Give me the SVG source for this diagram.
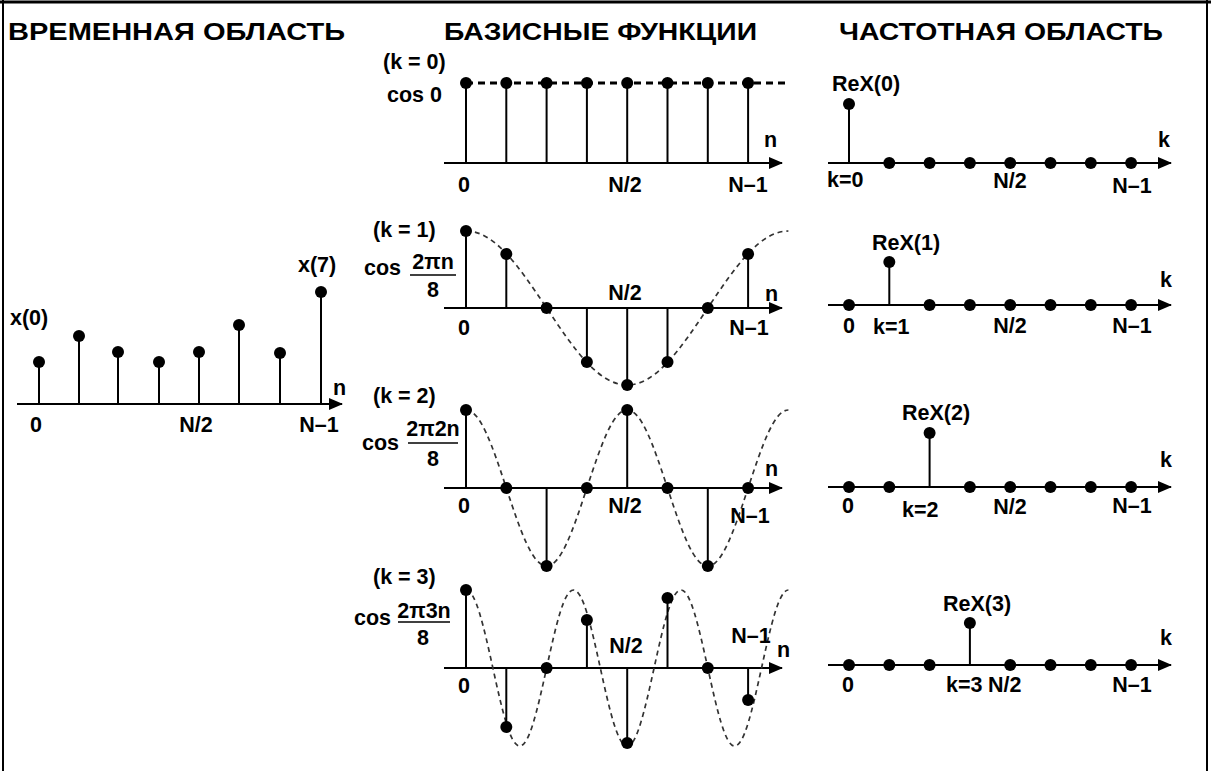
<svg xmlns="http://www.w3.org/2000/svg" width="1211" height="771" viewBox="0 0 1211 771">
<style>
.t{font-family:"Liberation Sans",Arial,sans-serif;font-weight:bold;font-size:21.5px;fill:#000}
.h{font-size:24px}
.m{text-anchor:middle}
.ax{stroke:#000;stroke-width:2;fill:none}
.st{stroke:#000;stroke-width:2;fill:none}
.cv{stroke:#333;stroke-width:1.7;fill:none;stroke-dasharray:5 4}
.dl{stroke:#000;stroke-width:3;fill:none;stroke-dasharray:7 5}
.d{fill:#000}
.fr{stroke:#000;stroke-width:1.6}
</style>
<defs>
<marker id="arr" markerUnits="userSpaceOnUse" markerWidth="14" markerHeight="12" refX="13" refY="6" orient="auto">
<path d="M0,0 L14,6 L0,12 z" fill="#000"/>
</marker>
</defs>
<rect x="0" y="0" width="1211" height="771" fill="#fff"/>
<g id="frame" stroke="#000" fill="none">
<line x1="0" y1="2" x2="1211" y2="2" stroke-width="3"/>
<line x1="3" y1="0" x2="3" y2="771" stroke-width="2"/>
<line x1="1207" y1="0" x2="1207" y2="771" stroke-width="2"/>
</g>
<g id="headers">
<text class="t h" x="8" y="40" textLength="337" lengthAdjust="spacingAndGlyphs">ВРЕМЕННАЯ ОБЛАСТЬ</text>
<text class="t h" x="444" y="40" textLength="313" lengthAdjust="spacingAndGlyphs">БАЗИСНЫЕ ФУНКЦИИ</text>
<text class="t h" x="839" y="40" textLength="324" lengthAdjust="spacingAndGlyphs">ЧАСТОТНАЯ ОБЛАСТЬ</text>
</g>

<g id="connectors">
<line class="ax" x1="17" y1="404" x2="342" y2="404" marker-end="url(#arr)"/>
<line class="ax" x1="444" y1="163" x2="782" y2="163" marker-end="url(#arr)"/>
<line class="ax" x1="444" y1="308" x2="782" y2="308" marker-end="url(#arr)"/>
<line class="ax" x1="444" y1="488" x2="782" y2="488" marker-end="url(#arr)"/>
<line class="ax" x1="444" y1="668" x2="782" y2="668" marker-end="url(#arr)"/>
<line class="ax" x1="828" y1="163" x2="1171" y2="163" marker-end="url(#arr)"/>
<line class="ax" x1="828" y1="305" x2="1171" y2="305" marker-end="url(#arr)"/>
<line class="ax" x1="828" y1="487" x2="1171" y2="487" marker-end="url(#arr)"/>
<line class="ax" x1="828" y1="665" x2="1171" y2="665" marker-end="url(#arr)"/>
</g>

<g id="time-domain">
<g class="st">
<line x1="39" y1="404" x2="39" y2="362"/>
<line x1="79" y1="404" x2="79" y2="336"/>
<line x1="118" y1="404" x2="118" y2="352"/>
<line x1="159" y1="404" x2="159" y2="362"/>
<line x1="199" y1="404" x2="199" y2="352"/>
<line x1="239" y1="404" x2="239" y2="325"/>
<line x1="280" y1="404" x2="280" y2="353"/>
<line x1="321" y1="404" x2="321" y2="292"/>
</g>
<g class="d">
<circle cx="39" cy="362" r="6"/><circle cx="79" cy="336" r="6"/><circle cx="118" cy="352" r="6"/><circle cx="159" cy="362" r="6"/>
<circle cx="199" cy="352" r="6"/><circle cx="239" cy="325" r="6"/><circle cx="280" cy="353" r="6"/><circle cx="321" cy="292" r="6"/>
</g>
<text class="t" x="10" y="325">x(0)</text>
<text class="t" x="298" y="272">x(7)</text>
<text class="t" x="333" y="395">n</text>
<text class="t m" x="36" y="432">0</text>
<text class="t m" x="196" y="432">N/2</text>
<text class="t m" x="319" y="432">N–1</text>
</g>

<g id="basis-k0">
<line class="dl" x1="466" y1="83" x2="790" y2="83"/>
<g class="st">
<line x1="466" y1="163" x2="466" y2="83"/><line x1="506.3" y1="163" x2="506.3" y2="83"/>
<line x1="546.6" y1="163" x2="546.6" y2="83"/><line x1="586.9" y1="163" x2="586.9" y2="83"/>
<line x1="627.2" y1="163" x2="627.2" y2="83"/><line x1="667.5" y1="163" x2="667.5" y2="83"/>
<line x1="707.8" y1="163" x2="707.8" y2="83"/><line x1="748.1" y1="163" x2="748.1" y2="83"/>
</g>
<g class="d">
<circle cx="466" cy="83" r="6"/><circle cx="506.3" cy="83" r="6"/><circle cx="546.6" cy="83" r="6"/><circle cx="586.9" cy="83" r="6"/>
<circle cx="627.2" cy="83" r="6"/><circle cx="667.5" cy="83" r="6"/><circle cx="707.8" cy="83" r="6"/><circle cx="748.1" cy="83" r="6"/>
</g>
<text class="t" x="383" y="69">(k = 0)</text>
<text class="t" x="387" y="102">cos 0</text>
<text class="t" x="764" y="147">n</text>
<text class="t m" x="464" y="192">0</text>
<text class="t m" x="625" y="192">N/2</text>
<text class="t m" x="748" y="192">N–1</text>
</g>

<g id="basis-k1">
<path class="cv" d="M466,231 C494.3,231 518.3,265.5 546.6,308 C574.9,350.5 598.9,385 627.2,385 C655.5,385 679.5,350.5 707.8,308 C736.1,265.5 760.1,231 788.4,231"/>
<g class="st">
<line x1="466" y1="308" x2="466" y2="231"/><line x1="506.3" y1="308" x2="506.3" y2="254"/>
<line x1="586.9" y1="308" x2="586.9" y2="362"/><line x1="627.2" y1="308" x2="627.2" y2="385"/>
<line x1="667.5" y1="308" x2="667.5" y2="362"/><line x1="748.1" y1="308" x2="748.1" y2="254"/>
</g>
<g class="d">
<circle cx="466" cy="231" r="6"/><circle cx="506.3" cy="254" r="6"/><circle cx="546.6" cy="308" r="6"/><circle cx="586.9" cy="362" r="6"/>
<circle cx="627.2" cy="385" r="6"/><circle cx="667.5" cy="362" r="6"/><circle cx="707.8" cy="308" r="6"/><circle cx="748.1" cy="254" r="6"/>
</g>
<text class="t" x="373" y="237">(k = 1)</text>
<text class="t" x="364" y="275">cos</text>
<text class="t m" x="433" y="269">2πn</text>
<line class="fr" x1="410" y1="275" x2="456" y2="275"/>
<text class="t m" x="433" y="297">8</text>
<text class="t m" x="625" y="300">N/2</text>
<text class="t" x="765" y="301">n</text>
<text class="t m" x="464" y="335">0</text>
<text class="t m" x="749" y="335">N–1</text>
</g>

<g id="basis-k2">
<path class="cv" d="M466,410 C480.17,410 492.13,444.92 506.3,488 C520.47,531.08 532.43,566 546.6,566 C560.77,566 572.73,531.08 586.9,488 C601.07,444.92 613.03,410 627.2,410 C641.37,410 653.33,444.92 667.5,488 C681.67,531.08 693.63,566 707.8,566 C721.97,566 733.93,531.08 748.1,488 C762.27,444.92 774.23,410 788.4,410"/>
<g class="st">
<line x1="466" y1="488" x2="466" y2="410"/><line x1="546.6" y1="488" x2="546.6" y2="566"/>
<line x1="627.2" y1="488" x2="627.2" y2="410"/><line x1="707.8" y1="488" x2="707.8" y2="566"/>
</g>
<g class="d">
<circle cx="466" cy="410" r="6"/><circle cx="506.3" cy="488" r="6"/><circle cx="546.6" cy="566" r="6"/><circle cx="586.9" cy="488" r="6"/>
<circle cx="627.2" cy="410" r="6"/><circle cx="667.5" cy="488" r="6"/><circle cx="707.8" cy="566" r="6"/><circle cx="748.1" cy="488" r="6"/>
</g>
<text class="t" x="373" y="403">(k = 2)</text>
<text class="t" x="362" y="450">cos</text>
<text class="t m" x="433" y="436">2π2n</text>
<line class="fr" x1="408" y1="443" x2="458" y2="443"/>
<text class="t m" x="433" y="466">8</text>
<text class="t" x="765" y="476">n</text>
<text class="t m" x="464" y="513">0</text>
<text class="t m" x="625" y="513">N/2</text>
<text class="t m" x="750" y="523">N–1</text>
</g>

<g id="basis-k3">
<path class="cv" d="M466,590 C475.45,590 483.42,624.92 492.87,668 C502.32,711.08 510.28,746 519.73,746 C529.18,746 537.15,711.08 546.6,668 C556.05,624.92 564.02,590 573.47,590 C582.92,590 590.88,624.92 600.33,668 C609.78,711.08 617.75,746 627.2,746 C636.65,746 644.62,711.08 654.07,668 C663.52,624.92 671.48,590 680.93,590 C690.38,590 698.35,624.92 707.8,668 C717.25,711.08 725.22,746 734.67,746 C744.12,746 752.08,711.08 761.53,668 C770.98,624.92 778.95,590 788.4,590"/>
<g class="st">
<line x1="466" y1="668" x2="466" y2="590"/><line x1="506.3" y1="668" x2="506.3" y2="727"/>
<line x1="586.9" y1="668" x2="586.9" y2="620"/><line x1="627.2" y1="668" x2="627.2" y2="743"/>
<line x1="667.5" y1="668" x2="667.5" y2="598"/><line x1="748.1" y1="668" x2="748.1" y2="700"/>
</g>
<g class="d">
<circle cx="466" cy="590" r="6"/><circle cx="506.3" cy="727" r="6"/><circle cx="546.6" cy="668" r="6"/><circle cx="586.9" cy="620" r="6"/>
<circle cx="627.2" cy="743" r="6"/><circle cx="667.5" cy="598" r="6"/><circle cx="707.8" cy="668" r="6"/><circle cx="748.1" cy="700" r="6"/>
</g>
<text class="t" x="373" y="584">(k = 3)</text>
<text class="t" x="354" y="625">cos</text>
<text class="t m" x="424" y="618">2π3n</text>
<line class="fr" x1="398" y1="622" x2="450" y2="622"/>
<text class="t m" x="423" y="645">8</text>
<text class="t m" x="626" y="653">N/2</text>
<text class="t m" x="751" y="643">N–1</text>
<text class="t" x="777" y="657">n</text>
<text class="t m" x="464" y="693">0</text>
</g>

<g id="freq-k0">
<line class="st" x1="849" y1="163" x2="849" y2="104"/>
<g class="d">
<circle cx="849" cy="104" r="6"/><circle cx="889.3" cy="163" r="6"/><circle cx="929.6" cy="163" r="6"/><circle cx="969.9" cy="163" r="6"/>
<circle cx="1010.2" cy="163" r="6"/><circle cx="1050.5" cy="163" r="6"/><circle cx="1090.8" cy="163" r="6"/><circle cx="1131.1" cy="163" r="6"/>
</g>
<text class="t" x="832" y="91">ReX(0)</text>
<text class="t" x="1158" y="147">k</text>
<text class="t" x="827" y="187">k=0</text>
<text class="t m" x="1010" y="188">N/2</text>
<text class="t m" x="1132" y="193">N–1</text>
</g>

<g id="freq-k1">
<line class="st" x1="889.3" y1="305" x2="889.3" y2="262"/>
<g class="d">
<circle cx="849" cy="305" r="6"/><circle cx="889.3" cy="262" r="6"/><circle cx="929.6" cy="305" r="6"/><circle cx="969.9" cy="305" r="6"/>
<circle cx="1010.2" cy="305" r="6"/><circle cx="1050.5" cy="305" r="6"/><circle cx="1090.8" cy="305" r="6"/><circle cx="1131.1" cy="305" r="6"/>
</g>
<text class="t" x="872" y="250">ReX(1)</text>
<text class="t" x="1160" y="287">k</text>
<text class="t m" x="849" y="333">0</text>
<text class="t" x="873" y="334">k=1</text>
<text class="t m" x="1010" y="333">N/2</text>
<text class="t m" x="1132" y="333">N–1</text>
</g>

<g id="freq-k2">
<line class="st" x1="929.6" y1="487" x2="929.6" y2="433"/>
<g class="d">
<circle cx="849" cy="487" r="6"/><circle cx="889.3" cy="487" r="6"/><circle cx="929.6" cy="433" r="6"/><circle cx="969.9" cy="487" r="6"/>
<circle cx="1010.2" cy="487" r="6"/><circle cx="1050.5" cy="487" r="6"/><circle cx="1090.8" cy="487" r="6"/><circle cx="1131.1" cy="487" r="6"/>
</g>
<text class="t" x="902" y="420">ReX(2)</text>
<text class="t" x="1160" y="467">k</text>
<text class="t m" x="848" y="513">0</text>
<text class="t" x="902" y="517">k=2</text>
<text class="t m" x="1010" y="514">N/2</text>
<text class="t m" x="1132" y="513">N–1</text>
</g>

<g id="freq-k3">
<line class="st" x1="969.9" y1="665" x2="969.9" y2="623"/>
<g class="d">
<circle cx="849" cy="665" r="6"/><circle cx="889.3" cy="665" r="6"/><circle cx="929.6" cy="665" r="6"/><circle cx="969.9" cy="623" r="6"/>
<circle cx="1010.2" cy="665" r="6"/><circle cx="1050.5" cy="665" r="6"/><circle cx="1090.8" cy="665" r="6"/><circle cx="1131.1" cy="665" r="6"/>
</g>
<text class="t" x="943" y="611">ReX(3)</text>
<text class="t" x="1160" y="645">k</text>
<text class="t m" x="848" y="692">0</text>
<text class="t" x="946" y="692">k=3</text>
<text class="t" x="988" y="692">N/2</text>
<text class="t m" x="1132" y="692">N–1</text>
</g>
</svg>
